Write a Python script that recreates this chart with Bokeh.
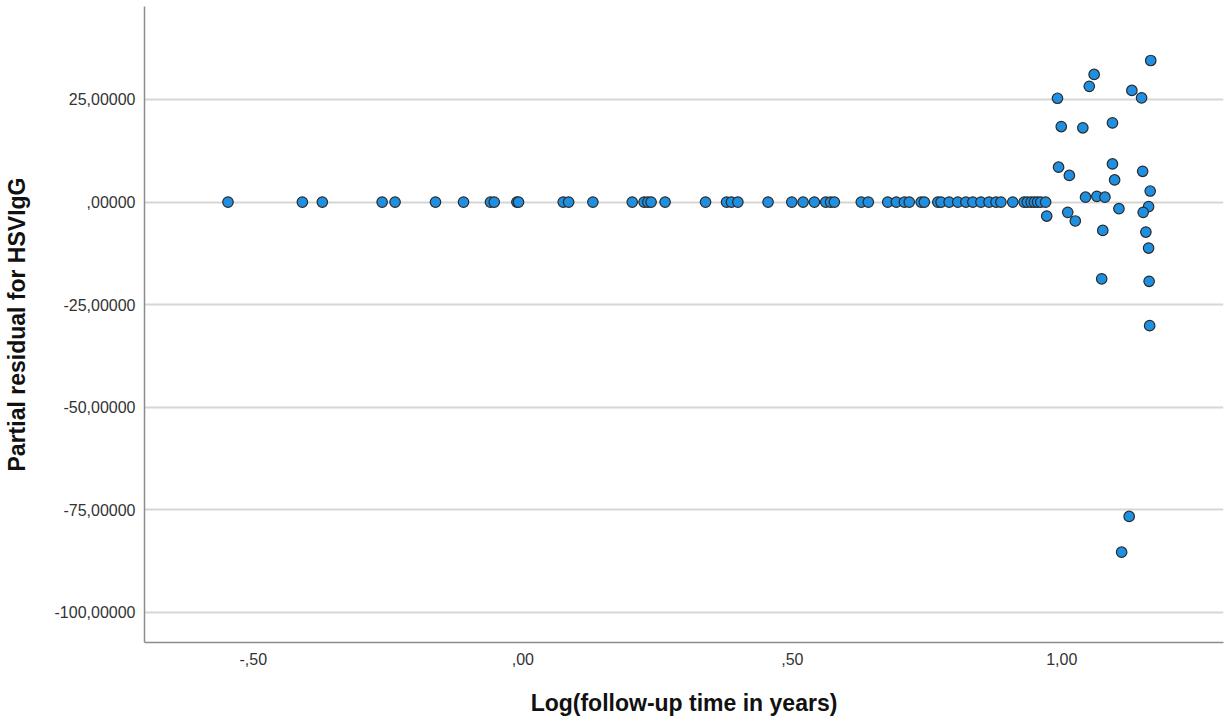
from bokeh.plotting import figure
from bokeh.models import Range1d, FixedTicker
from bokeh.embed import file_html
from bokeh.resources import INLINE

# Points lying on the zero line (partial residual ~ 0)
zero_x = [-0.547, -0.409, -0.372, -0.261, -0.237, -0.162, -0.110, -0.060, -0.053,
          -0.011, -0.008, 0.075, 0.085, 0.130, 0.203, 0.225, 0.232, 0.238, 0.264,
          0.339, 0.378, 0.387, 0.399, 0.455, 0.499, 0.520, 0.541, 0.562, 0.571,
          0.578, 0.628, 0.641, 0.677, 0.693, 0.708, 0.717, 0.739, 0.745, 0.770,
          0.776, 0.791, 0.807, 0.822, 0.835, 0.850, 0.865, 0.878, 0.887, 0.909,
          0.930, 0.936, 0.943, 0.949, 0.955, 0.961, 0.970]
zero_y = [0.0] * len(zero_x)

# Scattered points at the right
scat_x = [1.165, 1.060, 1.051, 1.130, 1.148, 0.992, 1.094, 0.999, 1.039, 1.094,
          0.994, 1.150, 1.014, 1.098, 1.164, 1.044, 1.065, 1.080, 1.161, 1.106,
          1.151, 1.011, 0.972, 1.025, 1.076, 1.156, 1.161, 1.074, 1.162, 1.163,
          1.125, 1.111]
scat_y = [34.5, 31.1, 28.2, 27.2, 25.4, 25.3, 19.3, 18.4, 18.1, 9.3,
          8.5, 7.5, 6.5, 5.4, 2.7, 1.2, 1.4, 1.2, -1.1, -1.6,
          -2.5, -2.5, -3.4, -4.6, -6.9, -7.3, -11.2, -18.7, -19.3, -30.1,
          -76.6, -85.3]

x_ticks = [-0.5, 0.0, 0.5, 1.0]
x_tick_labels = ["-,50", ",00", ",50", "1,00"]
y_ticks = [25, 0, -25, -50, -75, -100]
y_tick_labels = ["25,00000", ",00000", "-25,00000", "-50,00000", "-75,00000", "-100,00000"]

xs = zero_x + scat_x
ys = zero_y + scat_y

p = figure(width=1225, height=723, output_backend="svg", toolbar_location=None,
           x_range=Range1d(-0.7019, 1.300), y_range=Range1d(-107.31, 47.66),
           min_border_left=142, min_border_right=2, min_border_top=6, min_border_bottom=81)
p.outline_line_color = None
p.background_fill_color = "white"

p.xgrid.visible = False
p.ygrid.grid_line_color = "#d6d6d6"
p.ygrid.grid_line_width = 2

p.scatter(xs, ys, size=10.5, fill_color="#1e8fe1", line_color="#2a2a2a", line_width=1.2)

font = "Liberation Sans"
for ax in (p.xaxis[0], p.yaxis[0]):
    ax.axis_line_color = "#8c8c8c"
    ax.axis_line_width = 1.5
    ax.major_tick_line_color = None
    ax.minor_tick_line_color = None
    ax.major_tick_out = 0
    ax.major_tick_in = 0
    ax.major_label_text_font = font
    ax.major_label_text_font_size = "16px"
    ax.major_label_text_color = "#333333"
    ax.axis_label_text_font = font
    ax.axis_label_text_font_style = "bold"
    ax.axis_label_text_font_size = "23px"
    ax.axis_label_text_color = "#111111"

p.xaxis.ticker = FixedTicker(ticks=x_ticks)
p.xaxis.major_label_overrides = {t: l for t, l in zip(x_ticks, x_tick_labels)}
p.yaxis.ticker = FixedTicker(ticks=y_ticks)
p.yaxis.major_label_overrides = {t: l for t, l in zip(y_ticks, y_tick_labels)}

p.xaxis.axis_label = "Log(follow-up time in years)"
p.yaxis.axis_label = "Partial residual for HSVIgG"
p.xaxis.major_label_standoff = 10
p.xaxis.axis_label_standoff = 22
p.yaxis.major_label_standoff = 9
p.yaxis.axis_label_standoff = 22

open("out.html", "w").write(file_html(p, INLINE))
